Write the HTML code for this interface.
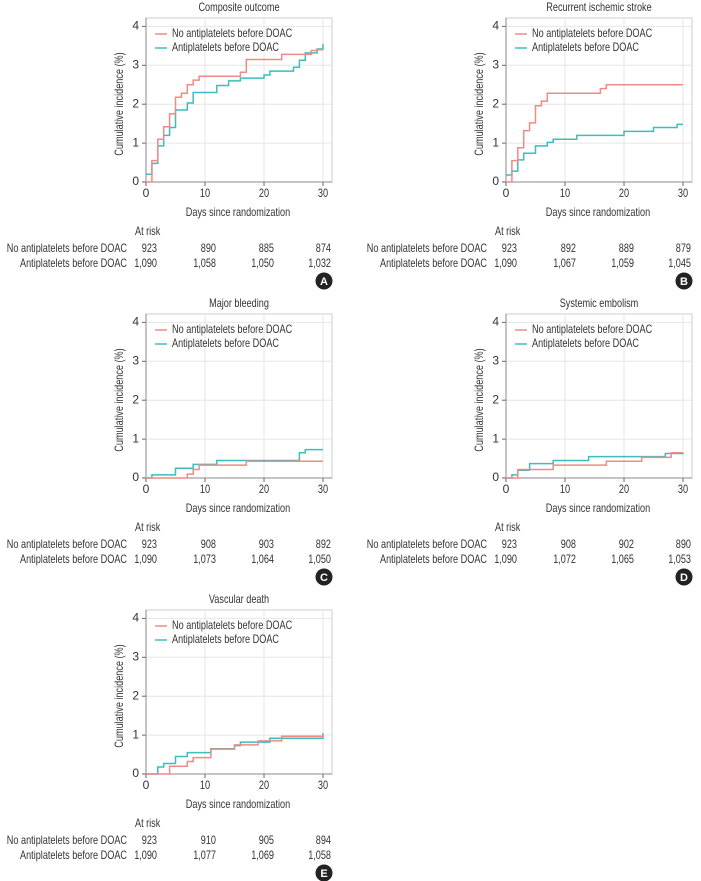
<!DOCTYPE html>
<html><head><meta charset="utf-8"><style>
html,body{margin:0;padding:0;background:#fff;}
svg{display:block;font-family:"Liberation Sans",sans-serif;}
</style></head><body>
<svg id="fig" width="701" height="881" viewBox="0 0 701 881"></svg>
<script>
// ---- data ----
const titles = ["Composite outcome","Recurrent ischemic stroke","Major bleeding","Systemic embolism","Vascular death"];
const letters = ["A","B","C","D","E"];
const groupNames = ["No antiplatelets before DOAC","Antiplatelets before DOAC"];
const xTicks = [0,10,20,30];
const yTicks = [0,1,2,3,4];
// step series: [day, value] where value changes at day
const redA = [[0,0],[1,0.55],[2,1.1],[3,1.42],[4,1.75],[5,2.18],[6,2.28],[7,2.5],[8,2.62],[9,2.72],[16,2.82],[17,3.15],[23,3.28],[28,3.38],[29,3.4],[30,3.4]];
const tealA = [[0,0.2],[1,0.48],[2,0.93],[3,1.2],[4,1.4],[5,1.85],[7,2.03],[8,2.3],[12,2.48],[14,2.6],[16,2.67],[20,2.75],[21,2.85],[25,2.95],[26,3.13],[27,3.32],[29,3.42],[30,3.55]];
const redB = [[0,0],[1,0.55],[2,0.88],[3,1.32],[4,1.52],[5,1.96],[6,2.08],[7,2.28],[16,2.4],[17,2.5],[30,2.5]];
const tealB = [[0,0.18],[1,0.28],[2,0.57],[3,0.74],[5,0.93],[7,1.02],[8,1.1],[12,1.2],[20,1.3],[25,1.4],[29,1.48],[30,1.48]];
const redC = [[0,0],[7,0.1],[8,0.22],[9,0.33],[17,0.43],[30,0.43]];
const tealC = [[0,0],[1,0.08],[5,0.25],[8,0.35],[12,0.45],[26,0.65],[27,0.73],[30,0.73]];
const redD = [[0,0],[2,0.22],[8,0.33],[17,0.43],[23,0.53],[28,0.65],[30,0.65]];
const tealD = [[0,0],[1,0.08],[2,0.2],[4,0.37],[8,0.45],[14,0.55],[27,0.63],[30,0.65]];
const redE = [[0,0],[4,0.2],[7,0.32],[8,0.42],[11,0.64],[15,0.75],[19,0.85],[23,0.97],[30,1.0]];
const tealE = [[0,0],[2,0.18],[3,0.27],[5,0.45],[7,0.55],[11,0.65],[15,0.73],[16,0.82],[21,0.92],[30,1.05]];
const riskNo = [["923","890","885","874"],["923","892","889","879"],["923","908","903","892"],["923","908","902","890"],["923","910","905","894"]];
const riskAnti = [["1,090","1,058","1,050","1,032"],["1,090","1,067","1,059","1,045"],["1,090","1,073","1,064","1,050"],["1,090","1,072","1,065","1,053"],["1,090","1,077","1,069","1,058"]];
const redSeries=[redA,redB,redC,redD,redE];
const tealSeries=[tealA,tealB,tealC,tealD,tealE];

const NS="http://www.w3.org/2000/svg";
const svg=document.getElementById('fig');
const SQ=0.76;
const FS=12;
function mk(tag,attrs,parent,text){const e=document.createElementNS(NS,tag);for(const k in attrs)e.setAttribute(k,attrs[k]);if(text!==undefined)e.textContent=text;parent.appendChild(e);
  if(tag==='text'&&text&&text.length>1){const L=e.getComputedTextLength();if(L>0){e.setAttribute('textLength',(L*SQ).toFixed(1));e.setAttribute('lengthAdjust','spacingAndGlyphs');}}
  return e;}
const origins=[[146,182],[506,182],[146,478],[506,478],[146,774]];
const RED="#ef8a86", TEAL="#3fbcbc", TXT="#333";
for(let p=0;p<5;p++){
  const [x0,y0]=origins[p];
  const sx=d=>x0+d*5.9, sy=v=>y0-v*38.9;
  const g=mk('g',{},svg);
  
  
  const t=mk('text',{x:x0+93,y:y0-174,'text-anchor':'middle','font-size':FS,fill:TXT,'dominant-baseline':'middle'},g,titles[p]);
  
  const box=mk('rect',{x:x0,y:y0-164,width:186,height:164,fill:'none',stroke:'#ccc','stroke-width':1},g);
  
  yTicks.forEach(v=>{
    mk('line',{x1:x0,x2:x0+186,y1:sy(v),y2:sy(v),stroke:'#e6e6e6'},g);
    mk('line',{x1:x0-4,x2:x0,y1:sy(v),y2:sy(v),stroke:'#666'},g);
    const l=mk('text',{x:x0-7,y:sy(v),'text-anchor':'end','font-size':FS,fill:TXT,'dominant-baseline':'middle'},g,String(v));
    
  });
  xTicks.forEach(d=>{
    mk('line',{x1:sx(d),x2:sx(d),y1:y0-164,y2:y0,stroke:'#e6e6e6'},g);
    mk('line',{x1:sx(d),x2:sx(d),y1:y0,y2:y0+4,stroke:'#666'},g);
    const l=mk('text',{x:sx(d),y:y0+12,'text-anchor':'middle','font-size':FS,fill:TXT,'dominant-baseline':'middle'},g,String(d));
    
  });
  mk('line',{x1:x0,x2:x0,y1:y0-164,y2:y0,stroke:'#888'},g);
  mk('line',{x1:x0,x2:x0+186,y1:y0,y2:y0,stroke:'#888'},g);
  const yt=mk('text',{x:0,y:0,transform:`translate(${x0-26},${y0-78}) rotate(-90)`,'text-anchor':'middle','font-size':FS,fill:TXT,'dominant-baseline':'middle'},g,'Cumulative incidence (%)');
  
  const xt=mk('text',{x:x0+92,y:y0+31,'text-anchor':'middle','font-size':FS,fill:TXT,'dominant-baseline':'middle'},g,'Days since randomization');
  
  [[tealSeries[p],TEAL,'series-antiplatelets'],[redSeries[p],RED,'series-no-antiplatelets']].forEach(([s,c,n])=>{
    let d=`M${sx(s[0][0])},${sy(s[0][1])}`;
    for(let i=1;i<s.length;i++){d+=`H${sx(s[i][0])}V${sy(s[i][1])}`;}
    const path=mk('path',{d:d,fill:'none',stroke:c,'stroke-width':1.5},g);
    
  });
  [[RED,groupNames[0]],[TEAL,groupNames[1]]].forEach(([c,n],i)=>{
    const ly=y0-148+i*14;
    mk('line',{x1:x0+9,x2:x0+21,y1:ly,y2:ly,stroke:c,'stroke-width':1.5},g);
    const lt=mk('text',{x:x0+26,y:ly,'font-size':FS,fill:TXT,'dominant-baseline':'middle'},g,n);
    
  });
  const ar=mk('text',{x:x0-11,y:y0+50,'font-size':FS,fill:TXT,'dominant-baseline':'middle'},g,'At risk');
  
  [[groupNames[0],riskNo[p]],[groupNames[1],riskAnti[p]]].forEach(([n,vals],i)=>{
    const ry=y0+67+i*15;
    const rl=mk('text',{x:x0-19,y:ry,'text-anchor':'end','font-size':FS,fill:TXT,'dominant-baseline':'middle'},g,n);
    
    vals.forEach((v,j)=>{
      const vt=mk('text',{x:[x0+11,x0+70,x0+128,x0+185][j],y:ry,'text-anchor':'end','font-size':FS,fill:TXT,'dominant-baseline':'middle'},g,v);
      
    });
  });
  const bc=mk('circle',{cx:x0+178,cy:y0+99,r:8.5,fill:'#222'},g);
  
  const bt=mk('text',{x:x0+178,y:y0+100,'text-anchor':'middle','font-size':11,'font-weight':'bold',fill:'#fff','dominant-baseline':'middle'},g,letters[p]);
  
}
</script>
</body></html>
